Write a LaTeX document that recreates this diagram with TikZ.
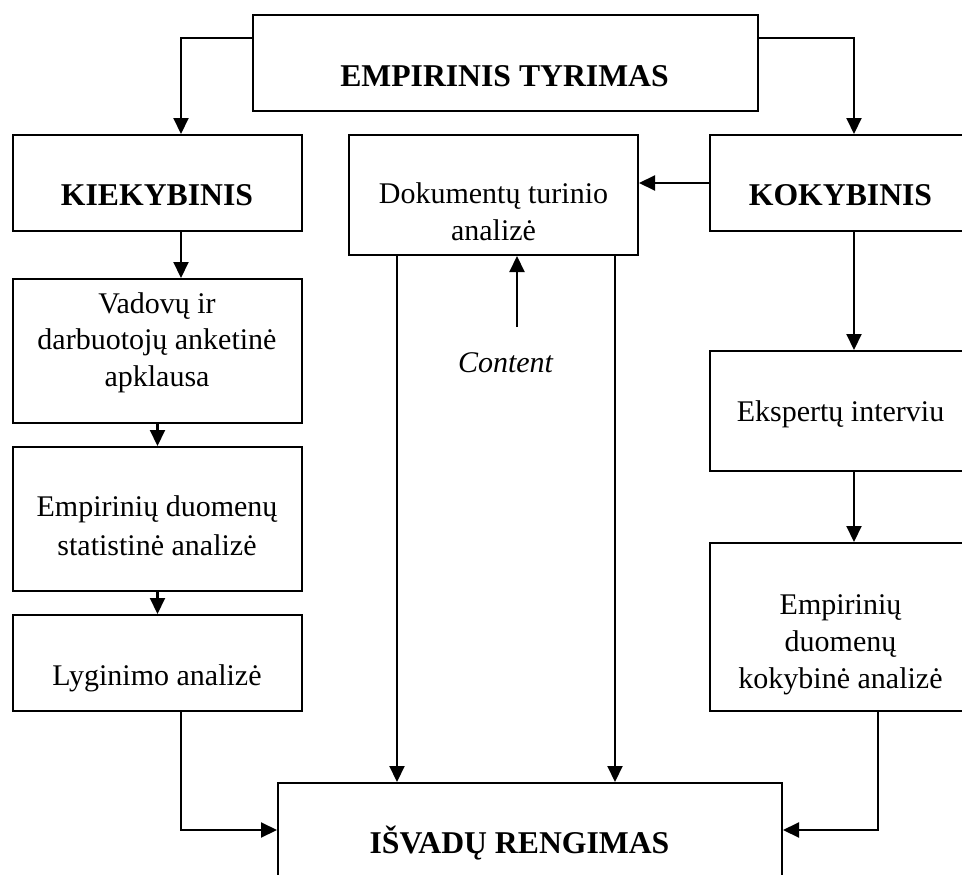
\documentclass[tikz,border=0pt]{standalone}
\usepackage{fontspec}
\setmainfont{Liberation Serif}
\usetikzlibrary{arrows.meta}
\begin{document}
\begin{tikzpicture}[x=1pt,y=-1pt,
  box/.style={draw, line width=2pt, rectangle, inner sep=0pt, anchor=north west},
  arr/.style={line width=2.1pt, -{Triangle[length=16pt,width=15pt]}},
  txt/.style={font=\fontsize{30}{36.5}\selectfont, align=center, inner sep=0pt, anchor=base},
  head/.style={font=\fontsize{31.7}{38}\selectfont\bfseries, inner sep=0pt, anchor=base}]
\useasboundingbox (0,0) rectangle (962,875);
\clip (0,0) rectangle (962,875);

% frames
\node[box, minimum width=505pt, minimum height=96pt]  (top)  at (252,14)  {};
\node[box, minimum width=289pt, minimum height=96pt]  (kiek) at (12,134)  {};
\node[box, minimum width=289pt, minimum height=120pt] (dok)  at (348,134) {};
\node[box, minimum width=263pt, minimum height=96pt]  (kok)  at (709,134) {};
\node[box, minimum width=289pt, minimum height=144pt] (vad)  at (12,278)  {};
\node[box, minimum width=289pt, minimum height=144pt] (emp1) at (12,446)  {};
\node[box, minimum width=289pt, minimum height=96pt]  (lyg)  at (12,614)  {};
\node[box, minimum width=263pt, minimum height=120pt] (eks)  at (709,350) {};
\node[box, minimum width=263pt, minimum height=168pt] (emp2) at (709,542) {};
\node[box, minimum width=504pt, minimum height=140pt] (isv)  at (277,782) {};

% labels (multi-line labels sit on the baseline of their last line)
\node[head] (ttop)  at (504.5,87)  {EMPIRINIS TYRIMAS};
\node[head] (tkiek) at (157,205)   {KIEKYBINIS};
\node[head] (tkok)  at (840.5,205) {KOKYBINIS};
\node[head] (tisv)  at (519.5,853) {IŠVADŲ RENGIMAS};
\node[txt, font=\fontsize{30}{37}\selectfont] (tdok) at (493.5,240) {Dokumentų turinio\\analizė};
\node[txt]  (tvad)  at (157,386)   {Vadovų ir\\darbuotojų anketinė\\apklausa};
\node[txt, font=\fontsize{30}{38.5}\selectfont] (temp1) at (157,555) {Empirinių duomenų\\statistinė analizė};
\node[txt]  (tlyg)  at (157,685)   {Lyginimo analizė};
\node[txt]  (teks)  at (840.5,421) {Ekspertų interviu};
\node[txt, font=\fontsize{30}{37}\selectfont] (temp2) at (840.5,688) {Empirinių\\duomenų\\kokybinė analizė};
\node[txt, font=\fontsize{30}{36}\selectfont\itshape] (tcont) at (505.5,372) {Content};
\coordinate (cstart) at (517,327);

% connectors
\draw[arr] ([yshift=-24pt]top.north west) -| ([xshift=23.5pt]kiek.north);
\draw[arr] ([yshift=-24pt]top.north east) -| ([xshift=12.5pt]kok.north);
\draw[arr] ([xshift=23.5pt]kiek.south) -- ([xshift=23.5pt]vad.north);
\draw[arr] (vad.south) -- (emp1.north);
\draw[arr] (emp1.south) -- (lyg.north);
\draw[arr] ([xshift=23.5pt]lyg.south) |- ([yshift=-48pt]isv.north west);
\draw[arr] (kok.west) -- (kok.west -| dok.east);
\draw[arr] ([xshift=12.5pt]kok.south) -- ([xshift=12.5pt]eks.north);
\draw[arr] ([xshift=12.5pt]eks.south) -- ([xshift=12.5pt]emp2.north);
\draw[arr] ([xshift=36.5pt]emp2.south) |- ([yshift=-48pt]isv.north east);
\draw[arr] ([xshift=49pt]dok.south west) -- ([xshift=49pt]dok.south west |- isv.north);
\draw[arr] ([xshift=-24pt]dok.south east) -- ([xshift=-24pt]dok.south east |- isv.north);
\draw[arr] (cstart) -- (cstart |- dok.south);
\end{tikzpicture}
\end{document}
